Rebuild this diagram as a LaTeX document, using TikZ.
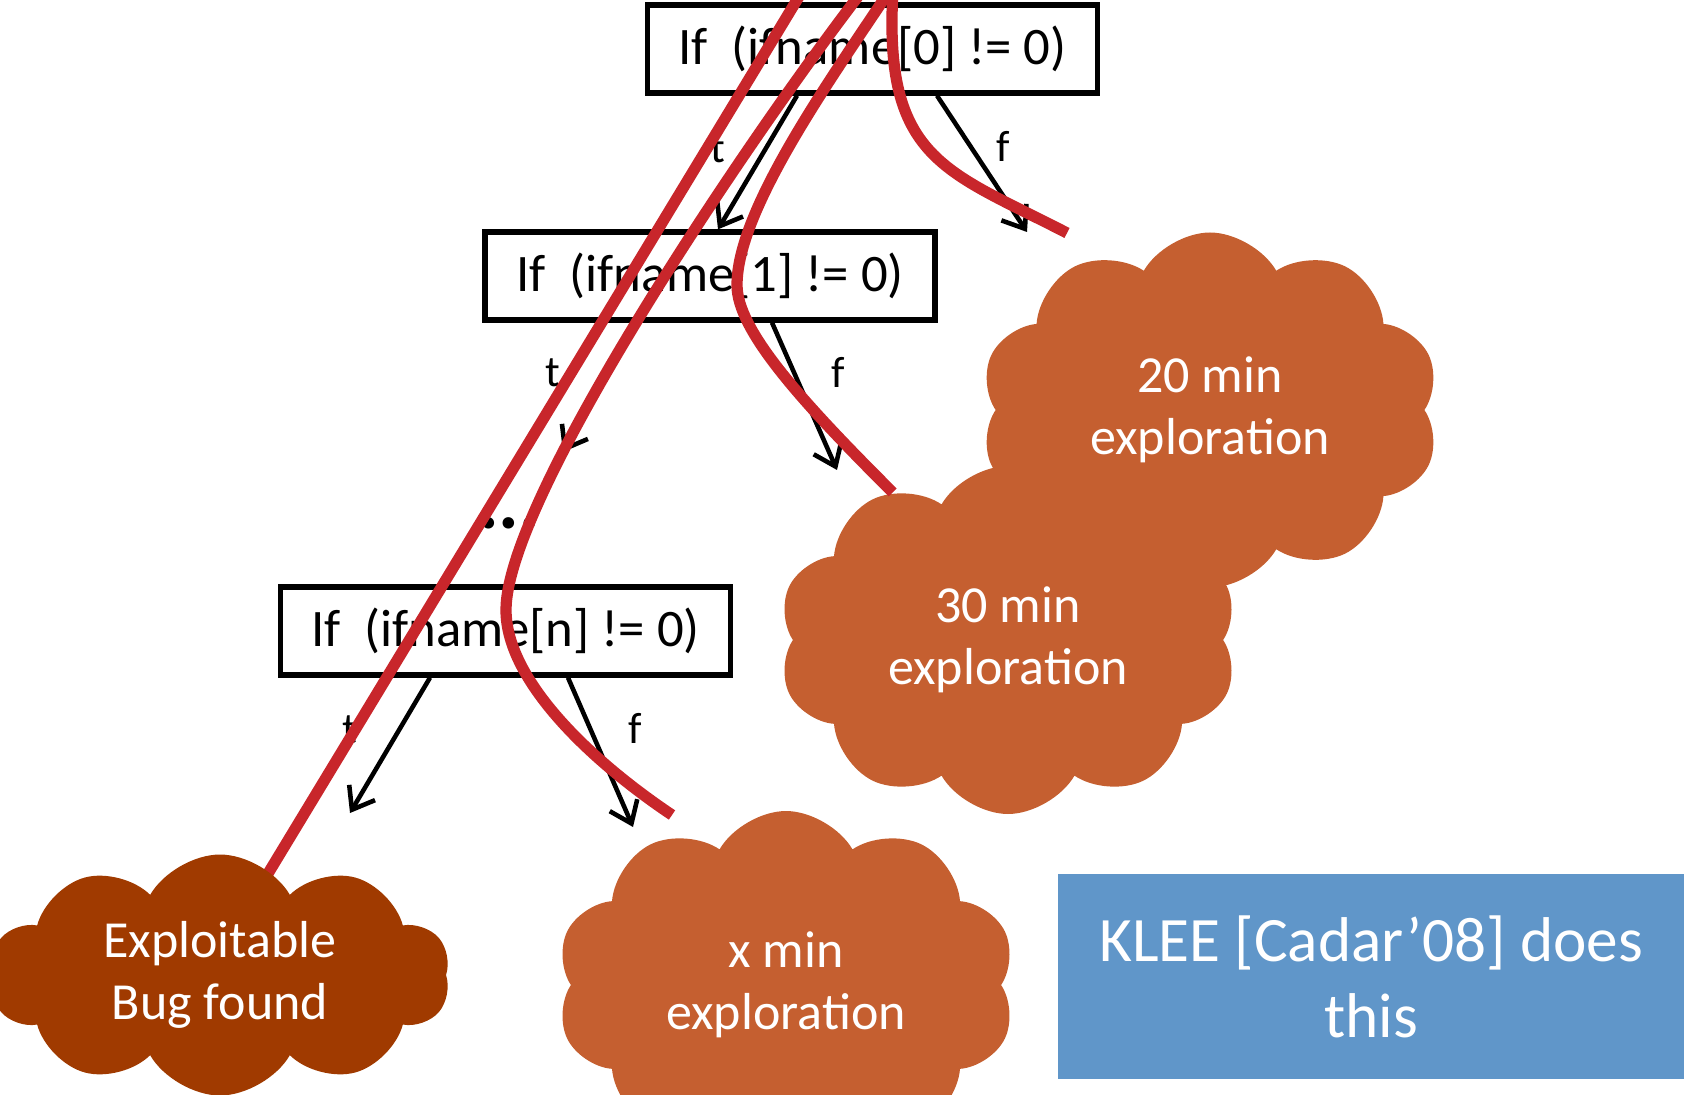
\documentclass[tikz,border=0pt]{standalone}
\usepackage{fontspec}
\setmainfont{Carlito}
\usepackage{tikz}
\usetikzlibrary{arrows.meta,shapes.symbols}
\definecolor{rust}{HTML}{C55F30}
\definecolor{brick}{HTML}{A03A00}
\definecolor{sky}{HTML}{6096C9}
\definecolor{trace}{HTML}{C8262B}

\begin{document}
\begin{tikzpicture}[>={Straight Barb[length=2mm,width=3mm]},
  cond/.style={draw=black,line width=1.5pt,fill=white,minimum width=4.5cm,minimum height=0.88cm,inner sep=0pt,font=\fontsize{15}{18}\selectfont},
  br/.style={->,line width=1.3pt},
  lbl/.style={font=\fontsize{12.5}{15}\selectfont},
  puff/.style={cloud,cloud puffs=10,cloud puff arc=120,cloud ignores aspect,fill=rust,text=white,align=center,inner sep=0pt,font=\fontsize{14.8}{17.8}\selectfont},
  run/.style={draw=trace,line width=3.2pt}]

\useasboundingbox (0,0) rectangle (16.84,-10.95);

% branch chain
\node[cond] (b0) at (8.725,-0.49) {If\ \ (ifname[0] != 0)};
\node[cond] (b1) at (7.10,-2.76) {If\ \ (ifname[1] != 0)};
\node[cond] (b2) at (5.055,-6.31) {If\ \ (ifname[n] != 0)};
\node[font=\fontsize{22}{26}\selectfont\bfseries,anchor=base] (dots) at (5.09,-5.29) {...};

\coordinate (f0) at (10.27,-2.32);
\coordinate (t1) at (5.63,-4.52);
\coordinate (f1) at (8.37,-4.70);
\coordinate (t2) at (3.50,-8.13);
\coordinate (f2) at (6.33,-8.27);

\draw[br] ([xshift=-0.755cm]b0.south) -- ([xshift=0.08cm]b1.north);
\draw[br] ([xshift=0.645cm]b0.south) -- (f0);
\draw[br] ([xshift=-0.72cm]b1.south) -- (t1);
\draw[br] ([xshift=0.62cm]b1.south) -- (f1);
\draw[br] ([xshift=-0.755cm]b2.south) -- (t2);
\draw[br] ([xshift=0.625cm]b2.south) -- (f2);

\node[lbl] (lt0) at (7.18,-1.49) {t};
\node[lbl] (lf0) at (10.03,-1.46) {f};
\node[lbl] (lt1) at (5.53,-3.73) {t};
\node[lbl] (lf1) at (8.38,-3.72) {f};
\node[lbl] (lt2) at (3.50,-7.30) {t};
\node[lbl] (lf2) at (6.35,-7.28) {f};

% the straight run dives under the bug cloud
\coordinate (sA) at (8.06,0.15);
\coordinate (aend) at (2.52,-9.00);
\draw[run] (sA) -- (aend);

% outcomes
\node[puff,minimum width=4.6cm,minimum height=3.55cm] (c20) at (12.10,-4.10) {20 min\\exploration};
\node[puff,minimum width=4.6cm,minimum height=3.48cm] (c30) at (10.08,-6.40) {30 min\\exploration};
\node[puff,minimum width=4.6cm,minimum height=3.48cm] (cx) at (7.86,-9.85) {x min\\exploration};
\node[puff,fill=brick,minimum width=4.6cm,minimum height=2.41cm] (bug) at (2.20,-9.75) {Exploitable\\Bug found};

\node[fill=sky,text=white,minimum width=6.26cm,minimum height=2.05cm,align=center,font=\fontsize{18}{21.6}\selectfont] (klee) at (13.71,-9.765) {KLEE [Cadar’08] does\\this};

% explored runs
\coordinate (sB) at (8.63,0.10);
\coordinate (sC) at (8.90,0.10);
\coordinate (sD) at (8.93,0.10);
\coordinate (xend) at (6.72,-8.15);
\coordinate (dend) at (10.67,-2.33);

\draw[run] (sB) .. controls (7.40,-1.50) and (5.06,-5.00) .. (5.06,-6.10)
  .. controls (5.06,-6.80) and (5.90,-7.60) .. (xend);
\draw[run] (sC) .. controls (8.30,-0.80) and (7.37,-2.10) .. (7.37,-2.85)
  .. controls (7.37,-3.30) and (8.00,-4.00) .. (c30.128);
\draw[run] (sD) .. controls (8.83,-1.60) and (9.45,-1.70) .. (dend);
\end{tikzpicture}
\end{document}
